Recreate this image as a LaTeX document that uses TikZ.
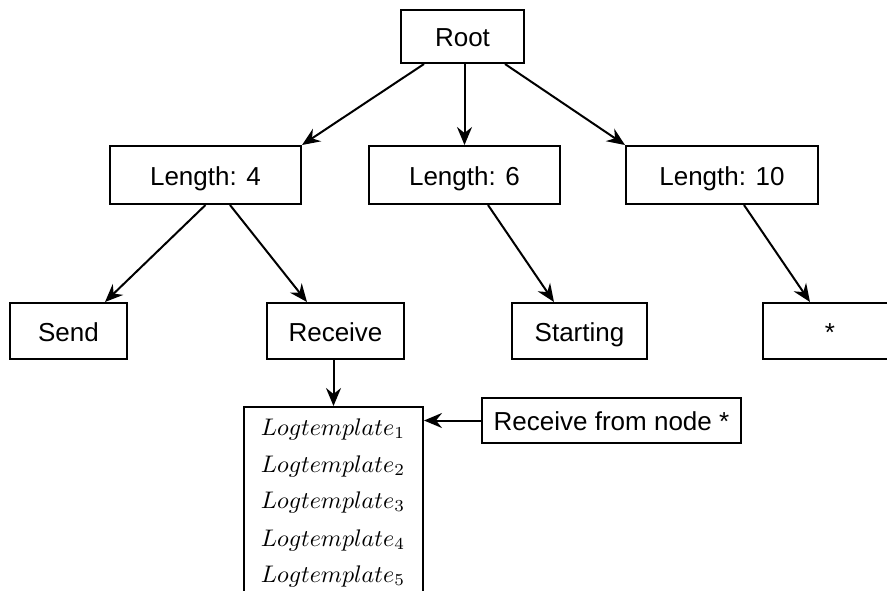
\documentclass[tikz,border=0pt]{standalone}
\usepackage{fontspec}
\setmainfont{Liberation Sans}
\usetikzlibrary{arrows.meta,calc}
\newcommand{\tmpltext}[1]{\scalebox{2.4}{$Logtemplate_{#1}$}}
\tikzset{
  box/.style={draw, line width=2pt, rectangle, inner sep=0pt,
    text height=20pt, text depth=0pt,
    font=\fontsize{26}{30}\selectfont},
  arr/.style={line width=2pt, -{Stealth[length=18pt,width=15pt,inset=6pt]}},
  tmpl/.style={anchor=base, inner sep=0pt}
}
\begin{document}
\begin{tikzpicture}[x=1pt,y=-1pt]
\clip (0,0) rectangle (887,590);
\fill[white] (0,0) rectangle (887,590);

% first level
\node[box, minimum width=123pt, minimum height=53pt] (root) at (462.5,36.5) {Root};

% second level: template lengths
\node[box, minimum width=191pt, minimum height=58pt] (len4)  at (205.5,175) {Length: 4};
\node[box, minimum width=191pt, minimum height=58pt] (len6)  at (464.5,175) {Length: 6};
\node[box, minimum width=192pt, minimum height=58pt] (len10) at (722,175)   {Length: 10};

% third level: first tokens
\node[box, minimum width=117pt, minimum height=56pt] (send)     at (68.5,331)  {Send};
\node[box, minimum width=137pt, minimum height=56pt] (receive)  at (335.5,331) {Receive};
\node[box, minimum width=135pt, minimum height=56pt] (starting) at (579.5,331) {Starting};
\node[box, minimum width=134pt, minimum height=56pt] (star)     at (830,331)   {*};

% leaf holding the log templates
\node[box, minimum width=179pt, minimum height=200pt, anchor=north] (log) at (333.5,406) {};
\node[tmpl] (lt1) at (333,435) {\tmpltext{1}};
\node[tmpl] (lt2) at (333,472) {\tmpltext{2}};
\node[tmpl] (lt3) at (333,508) {\tmpltext{3}};
\node[tmpl] (lt4) at (333,546) {\tmpltext{4}};
\node[tmpl] (lt5) at (333,582) {\tmpltext{5}};

% incoming message
\node[box, minimum width=259pt, minimum height=45pt] (recv) at (611.5,420.5) {Receive from node *};

% connectors
\draw[arr] ([xshift=-38.5pt]root.south) -- (len4.north east);
\draw[arr] (root.south -| len6.north) -- (len6.north);
\draw[arr] ([xshift=42.5pt]root.south) -- (len10.north west);

\draw[arr] (len4.south) -- ([xshift=36.5pt]send.north);
\draw[arr] ([xshift=24.5pt]len4.south) -- ([xshift=-28.5pt]receive.north);
\draw[arr] ([xshift=23.5pt]len6.south) -- ([xshift=-25.5pt]starting.north);
\draw[arr] ([xshift=22pt]len10.south) -- ([xshift=-20pt]star.north);

\draw[arr] ([xshift=-2pt]receive.south) -- ([xshift=-2pt]receive.south |- log.north);
\draw[arr] (recv.west) -- (recv.west -| log.east);
\end{tikzpicture}
\end{document}
